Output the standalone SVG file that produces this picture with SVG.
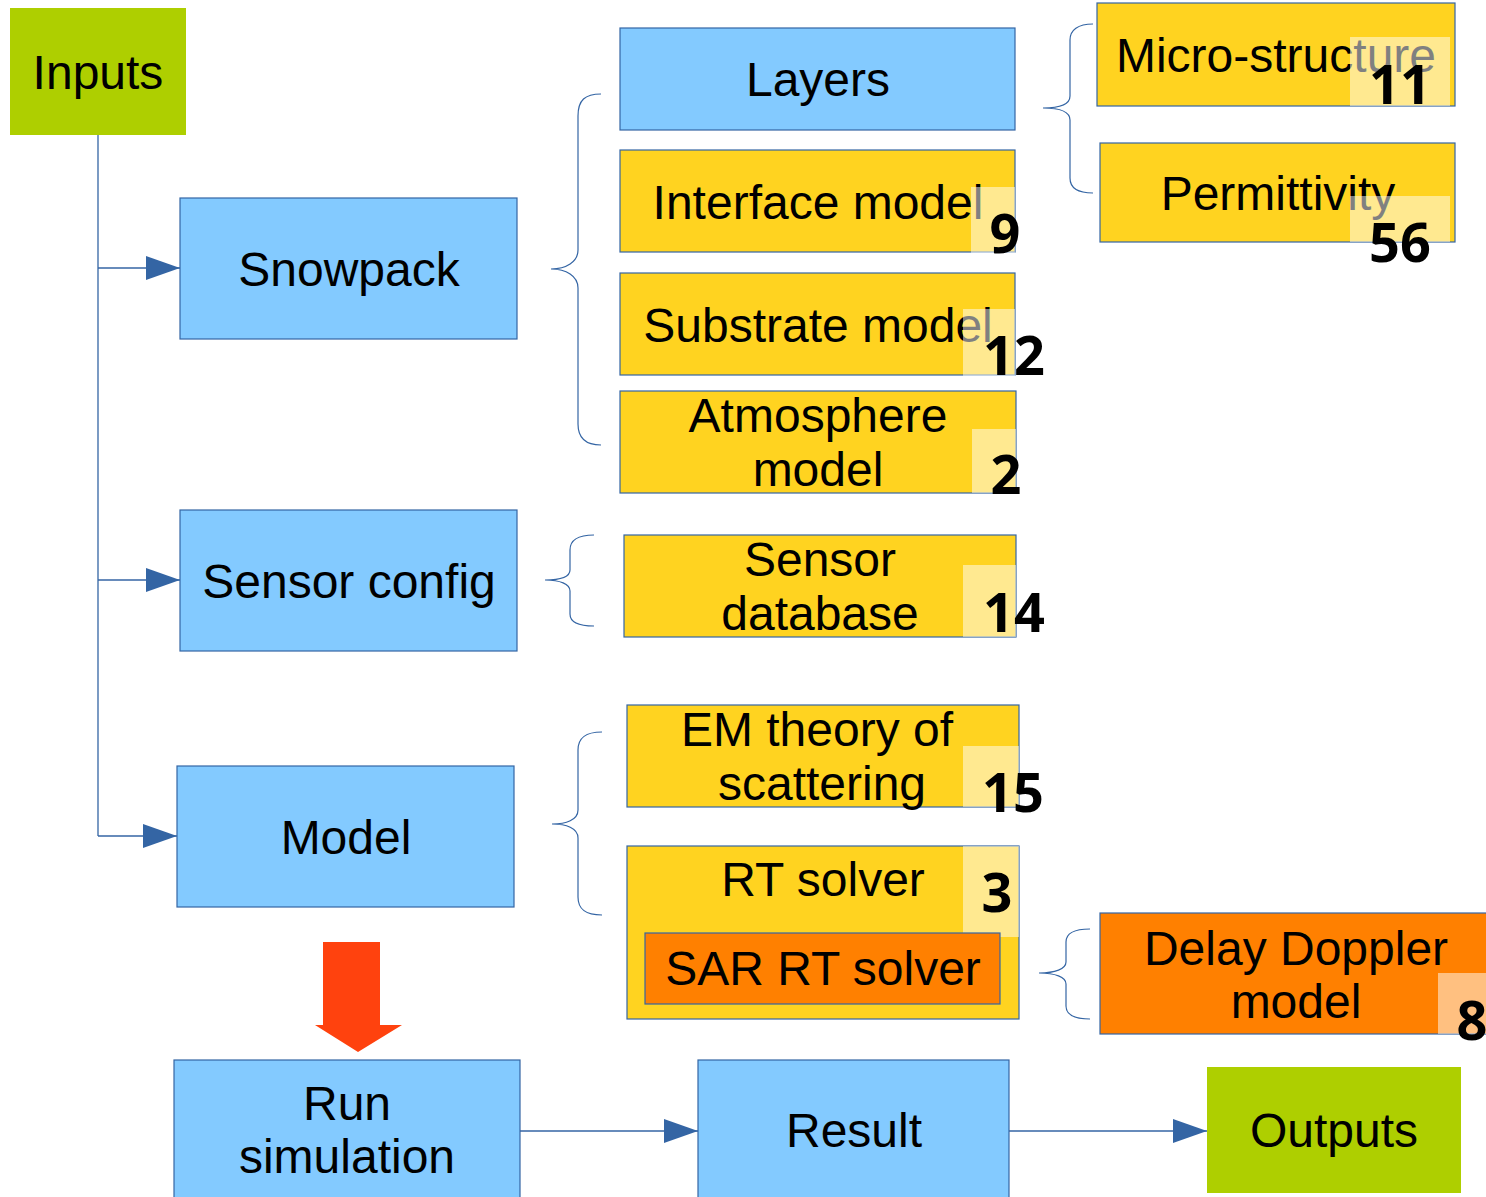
<svg xmlns="http://www.w3.org/2000/svg" width="1486" height="1197" viewBox="0 0 1486 1197">
<defs>
<style>
.t{font-family:"Liberation Sans",Arial,sans-serif;font-size:48px;fill:#000;text-anchor:middle}
.n{font-family:"Open Sans","DejaVu Sans",sans-serif;font-weight:bold;font-size:54px;fill:#000;text-anchor:middle}
.blue{fill:#83caff;stroke:#3465a4;stroke-width:1.2}
.yel{fill:#ffd320;stroke:#3465a4;stroke-width:1.2}
.org{fill:#ff8000;stroke:#3465a4;stroke-width:1.2}
.grn{fill:#aecf00}
.hl{fill:#ffffff;fill-opacity:0.5}
.ln{fill:none;stroke:#3465a4;stroke-width:1.3}
.br{fill:none;stroke:#3465a4;stroke-width:1.2}
</style>
<marker id="ah" markerWidth="34" markerHeight="24" refX="34" refY="12" orient="auto" markerUnits="userSpaceOnUse">
<path d="M0,0 L34,12 L0,24 Z" fill="#3465a4"/>
</marker>
</defs>
<rect width="1486" height="1197" fill="#ffffff"/>

<g id="connectors">
<path class="ln" d="M98,135 V836"/>
<path class="ln" d="M98,268 H180" marker-end="url(#ah)"/>
<path class="ln" d="M98,580 H180" marker-end="url(#ah)"/>
<path class="ln" d="M98,836 H177" marker-end="url(#ah)"/>
<path class="ln" d="M520,1131 H698" marker-end="url(#ah)"/>
<path class="ln" d="M1009,1131 H1207" marker-end="url(#ah)"/>
<path d="M323,942 H380 V1025 H402 L358,1052 L315,1025 H323 Z" fill="#ff420e"/>
<path class="br" d="M601,94 C585,94 578,100 578,116 V250 C578,262 566,269 551,269 C566,269 578,276 578,288 V424 C578,438 585,445 601,445"/>
<path class="br" d="M1093,24 C1078,24 1070,30 1070,40 V96 C1070,104 1060,108 1043,108 C1060,108 1070,112 1070,120 V178 C1070,188 1078,193 1093,193"/>
<path class="br" d="M594,535 C577,535 570,540 570,550 V570 C570,577 560,580 545,580 C560,580 570,584 570,591 V614 C570,622 577,626 594,626"/>
<path class="br" d="M602,732 C585,732 578,738 578,750 V810 C578,820 566,824 552,824 C566,824 578,828 578,838 V897 C578,909 585,915 602,915"/>
<path class="br" d="M1090,929 C1073,929 1066,934 1066,942 V962 C1066,969 1055,973 1039,973 C1055,973 1066,977 1066,984 V1006 C1066,1014 1073,1019 1090,1019"/>
</g>

<g id="inputs"><rect class="grn" x="10" y="8" width="176" height="127"/><text class="t" x="98" y="89">Inputs</text></g>
<g id="snowpack"><rect class="blue" x="180" y="198" width="337" height="141"/><text class="t" x="349" y="286">Snowpack</text></g>
<g id="sensor-config"><rect class="blue" x="180" y="510" width="337" height="141"/><text class="t" x="349" y="598">Sensor config</text></g>
<g id="model"><rect class="blue" x="177" y="766" width="337" height="141"/><text class="t" x="346" y="854">Model</text></g>
<g id="run-simulation"><rect class="blue" x="174" y="1060" width="346" height="145"/><text class="t" x="347" y="1120">Run</text><text class="t" x="347" y="1173">simulation</text></g>
<g id="result"><rect class="blue" x="698" y="1060" width="311" height="145"/><text class="t" x="854" y="1147">Result</text></g>
<g id="outputs"><rect class="grn" x="1207" y="1067" width="254" height="126"/><text class="t" x="1334" y="1147">Outputs</text></g>

<g id="layers"><rect class="blue" x="620" y="28" width="395" height="102"/><text class="t" x="818" y="96">Layers</text></g>
<g id="interface-model"><rect class="yel" x="620" y="150" width="395" height="102"/><text class="t" x="818" y="219">Interface model</text><rect class="hl" x="971" y="187" width="44" height="91"/><text class="n" x="1005" y="253">9</text></g>
<g id="substrate-model"><rect class="yel" x="620" y="273" width="395" height="102"/><text class="t" x="818" y="342">Substrate model</text><rect class="hl" x="963" y="309" width="52" height="91"/><text class="n" x="1014" y="375">12</text></g>
<g id="atmosphere-model"><rect class="yel" x="620" y="391" width="396" height="102"/><text class="t" x="818" y="432">Atmosphere</text><text class="t" x="818" y="486">model</text><rect class="hl" x="972" y="429" width="44" height="64"/><text class="n" x="1006" y="494">2</text></g>
<g id="micro-structure"><rect class="yel" x="1097" y="3" width="358" height="103"/><text class="t" x="1276" y="72">Micro-structure</text><rect class="hl" x="1350" y="37" width="100" height="69"/><text class="n" x="1400" y="104">11</text></g>
<g id="permittivity"><rect class="yel" x="1100" y="143" width="355" height="99"/><text class="t" x="1278" y="210">Permittivity</text><rect class="hl" x="1350" y="196" width="100" height="46"/><text class="n" x="1400" y="262">56</text></g>
<g id="sensor-database"><rect class="yel" x="624" y="535" width="392" height="102"/><text class="t" x="820" y="576">Sensor</text><text class="t" x="820" y="630">database</text><rect class="hl" x="963" y="565" width="53" height="72"/><text class="n" x="1014" y="632">14</text></g>
<g id="em-theory"><rect class="yel" x="627" y="705" width="392" height="102"/><text class="t" x="817" y="746">EM theory of</text><text class="t" x="822" y="800">scattering</text><rect class="hl" x="963" y="746" width="56" height="61"/><text class="n" x="1013" y="812">15</text></g>
<g id="rt-solver"><rect class="yel" x="627" y="846" width="392" height="173"/><text class="t" x="823" y="896">RT solver</text><rect class="hl" x="963" y="846" width="56" height="91"/><text class="n" x="997" y="912">3</text></g>
<g id="sar-rt-solver"><rect class="org" x="645" y="933" width="355" height="71"/><text class="t" x="823" y="985">SAR RT solver</text></g>
<g id="delay-doppler"><rect class="org" x="1100" y="913" width="390" height="121"/><text class="t" x="1296" y="965">Delay Doppler</text><text class="t" x="1296" y="1018">model</text><rect class="hl" x="1438" y="973" width="48" height="61"/><text class="n" x="1472" y="1040">8</text></g>
</svg>
